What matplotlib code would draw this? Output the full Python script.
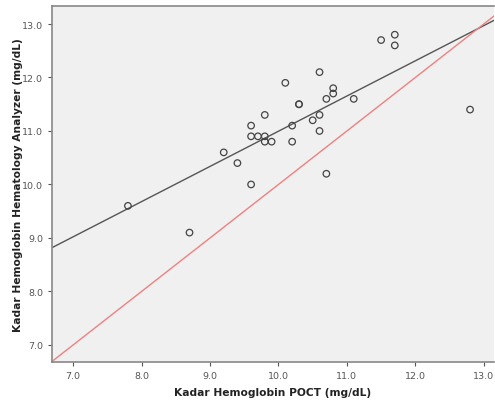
import numpy as np
import matplotlib
matplotlib.use("Agg")
import matplotlib.pyplot as plt

# Kadar Hb: POCT (x) vs hematology analyzer (y)
poct = [7.8, 8.7, 9.2, 9.4, 9.6, 9.6, 9.6, 9.7, 9.8, 9.8, 9.8, 9.9, 10.1, 10.2, 10.2,
        10.3, 10.3, 10.5, 10.6, 10.6, 10.6, 10.7, 10.7, 10.8, 10.8, 11.1, 11.5, 11.7, 11.7, 12.8]
analyzer = [9.6, 9.1, 10.6, 10.4, 11.1, 10.9, 10.0, 10.9, 10.9, 11.3, 10.8, 10.8, 11.9, 11.1, 10.8,
            11.5, 11.5, 11.2, 12.1, 11.3, 11.0, 11.6, 10.2, 11.8, 11.7, 11.6, 12.7, 12.8, 12.6, 11.4]
ticks = [7.0, 8.0, 9.0, 10.0, 11.0, 12.0, 13.0]

x = np.array(poct)
y = np.array(analyzer)

fig = plt.figure(figsize=(4.95, 4.02), dpi=100)
ax = fig.add_axes([0.105, 0.097, 0.893, 0.886])
ax.set_facecolor('#f0f0f0')

xlim = (6.69, 13.15)
ylim = (6.68, 13.34)

# fit line
m, b = np.polyfit(x, y, 1)
xs = np.array(xlim)
ax.plot(xs, m * xs + b, color='#555555', lw=1.0, zorder=2)
# identity line
ax.plot(xs, xs, color='#f08080', lw=1.0, zorder=2)

ax.scatter(x, y, s=22, facecolors='none', edgecolors='#444444', linewidths=0.9, zorder=3)

ax.set_xlim(xlim)
ax.set_ylim(ylim)
ax.set_xticks(ticks)
ax.set_yticks(ticks)
ax.set_xticklabels(['%.1f' % t for t in ticks])
ax.set_yticklabels(['%.1f' % t for t in ticks])
ax.tick_params(labelsize=6.8, colors='#555555', length=3, width=0.8)

for s in ['left', 'bottom', 'top']:
    ax.spines[s].set_color('#888888')
    ax.spines[s].set_linewidth(1.2)
ax.spines['right'].set_visible(False)

ax.set_xlabel('Kadar Hemoglobin POCT (mg/dL)', fontsize=7.7, fontweight='bold', color='#222222', labelpad=5)
ax.set_ylabel('Kadar Hemoglobin Hematology Analyzer (mg/dL)', fontsize=7.7, fontweight='bold', color='#222222', labelpad=-1)

fig.savefig('out.png', dpi=100)
